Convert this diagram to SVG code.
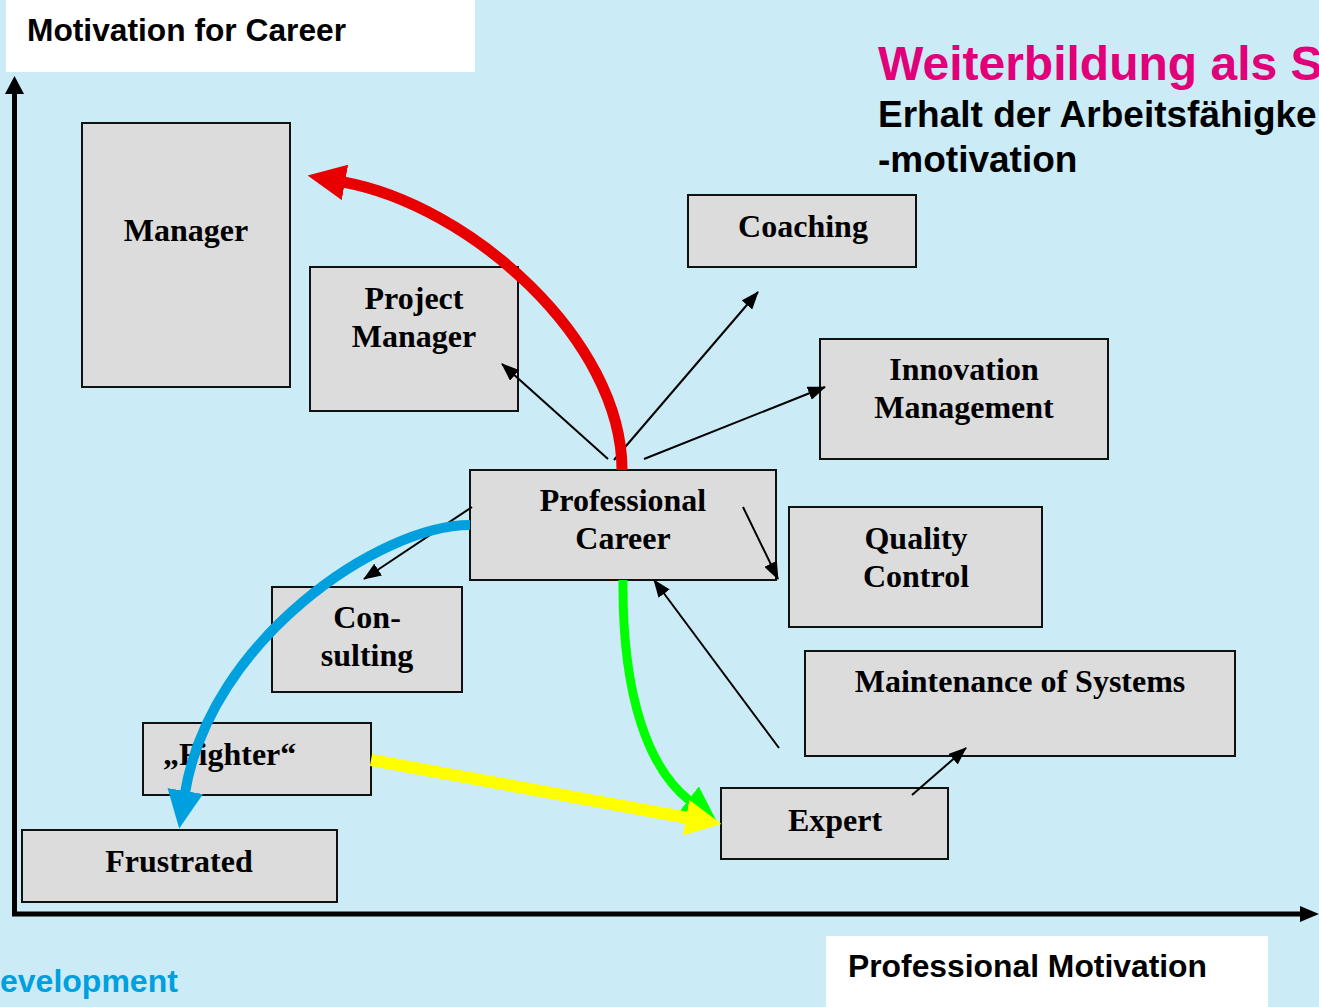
<svg xmlns="http://www.w3.org/2000/svg" width="1319" height="1007" viewBox="0 0 1319 1007">
<style>
.box{fill:#DCDCDC;stroke:#111;stroke-width:2}
.lbl{font-family:"Liberation Serif","Times New Roman",serif;font-weight:bold;font-size:32px;fill:#000;text-anchor:middle}
.sans{font-family:"Liberation Sans",Arial,sans-serif;font-weight:bold}
.thin{fill:none;stroke:#000;stroke-width:2}
.thick{fill:none}
</style>
<defs>
<marker id="ah" markerUnits="userSpaceOnUse" markerWidth="18" markerHeight="14" viewBox="0 0 18 14" refX="17" refY="7" orient="auto">
<path d="M0,0 L18,7 L0,14 z" fill="#000"/>
</marker>
<marker id="ahRed" markerUnits="userSpaceOnUse" markerWidth="38" markerHeight="36" viewBox="0 0 38 36" refX="2" refY="18" orient="auto">
<path d="M0,0 L38,18 L0,36 z" fill="#E80000"/>
</marker>
<marker id="ahBlue" markerUnits="userSpaceOnUse" markerWidth="38" markerHeight="36" viewBox="0 0 38 36" refX="2" refY="18" orient="auto">
<path d="M0,0 L38,18 L0,36 z" fill="#00A0DF"/>
</marker>
<marker id="ahGreen" markerUnits="userSpaceOnUse" markerWidth="36" markerHeight="34" viewBox="0 0 36 34" refX="2" refY="17" orient="auto">
<path d="M0,0 L36,17 L0,34 z" fill="#00FF00"/>
</marker>
<marker id="ahYellow" markerUnits="userSpaceOnUse" markerWidth="36" markerHeight="36" viewBox="0 0 36 36" refX="2" refY="18" orient="auto">
<path d="M0,0 L36,18 L0,36 z" fill="#FFFF00"/>
</marker>
</defs>
<rect x="0" y="0" width="1319" height="1007" fill="#CBEBF7"/>

<g id="header">
<rect x="6" y="0" width="469" height="72" fill="#FFFFFF"/>
<text class="sans" x="27" y="41" font-size="32" textLength="319" lengthAdjust="spacingAndGlyphs">Motivation for Career</text>
<text class="sans" x="878" y="80" font-size="48" fill="#E2007A">Weiterbildung als S</text>
<text class="sans" x="878" y="127" font-size="37">Erhalt der Arbeitsfähigke</text>
<text class="sans" x="878" y="172" font-size="37">-motivation</text>
</g>

<g id="footer">
<rect x="826" y="936" width="442" height="71" fill="#FFFFFF"/>
<text class="sans" x="848" y="977" font-size="32" textLength="359" lengthAdjust="spacingAndGlyphs">Professional Motivation</text>
<text class="sans" x="0" y="992" font-size="32" fill="#00A0DF">evelopment</text>
</g>

<g id="axes">
<line x1="14.5" y1="92" x2="14.5" y2="916" stroke="#000" stroke-width="5"/>
<polygon points="14.5,76 5,94 24,94" fill="#000"/>
<line x1="12" y1="914" x2="1302" y2="914" stroke="#000" stroke-width="5"/>
<polygon points="1319,914 1300,906 1300,922" fill="#000"/>
</g>

<g id="manager"><rect class="box" x="82" y="123" width="208" height="264"/><text class="lbl" x="186" y="241">Manager</text></g>
<g id="project-manager"><rect class="box" x="310" y="267" width="208" height="144"/><text class="lbl" x="414" y="309">Project</text><text class="lbl" x="414" y="347">Manager</text></g>
<g id="coaching"><rect class="box" x="688" y="195" width="228" height="72"/><text class="lbl" x="803" y="237">Coaching</text></g>
<g id="innovation-management"><rect class="box" x="820" y="339" width="288" height="120"/><text class="lbl" x="964" y="380">Innovation</text><text class="lbl" x="964" y="418">Management</text></g>
<g id="professional-career"><rect class="box" x="470" y="470" width="306" height="110"/><text class="lbl" x="623" y="511">Professional</text><text class="lbl" x="623" y="549">Career</text></g>
<g id="quality-control"><rect class="box" x="789" y="507" width="253" height="120"/><text class="lbl" x="916" y="549">Quality</text><text class="lbl" x="916" y="587">Control</text></g>
<g id="maintenance"><rect class="box" x="805" y="651" width="430" height="105"/><text class="lbl" x="1020" y="692">Maintenance of Systems</text></g>
<g id="consulting"><rect class="box" x="272" y="587" width="190" height="105"/><text class="lbl" x="367" y="628">Con-</text><text class="lbl" x="367" y="666">sulting</text></g>
<g id="fighter"><rect class="box" x="143" y="723" width="228" height="72"/><text class="lbl" x="163" y="765" style="text-anchor:start">„Fighter“</text></g>
<g id="frustrated"><rect class="box" x="22" y="830" width="315" height="72"/><text class="lbl" x="179" y="872">Frustrated</text></g>
<g id="expert"><rect class="box" x="721" y="788" width="227" height="71"/><text class="lbl" x="835" y="831">Expert</text></g>

<g id="connectors">
<line class="thin" x1="608" y1="459" x2="502" y2="364" marker-end="url(#ah)"/>
<line class="thin" x1="614" y1="460" x2="758" y2="292" marker-end="url(#ah)"/>
<line class="thin" x1="644" y1="459" x2="825" y2="387" marker-end="url(#ah)"/>
<line class="thin" x1="743" y1="507" x2="778" y2="579" marker-end="url(#ah)"/>
<line class="thin" x1="472" y1="507" x2="364" y2="579" marker-end="url(#ah)"/>
<line class="thin" x1="779" y1="748" x2="654" y2="580" marker-end="url(#ah)"/>
<line class="thin" x1="912" y1="795" x2="966" y2="748" marker-end="url(#ah)"/>
<path class="thick" d="M622,470 C622,340 470,205 343,182" stroke="#E80000" stroke-width="11" marker-end="url(#ahRed)"/>
<path class="thick" d="M470,525 C380,525 210,640 185,793" stroke="#00A0DF" stroke-width="10" marker-end="url(#ahBlue)"/>
<path class="thick" d="M623,580 C622,700 650,770 690,801" stroke="#00FF00" stroke-width="9" marker-end="url(#ahGreen)"/>
<line class="thick" x1="371" y1="760" x2="688" y2="818" stroke="#FFFF00" stroke-width="12" marker-end="url(#ahYellow)"/>
</g>
</svg>
